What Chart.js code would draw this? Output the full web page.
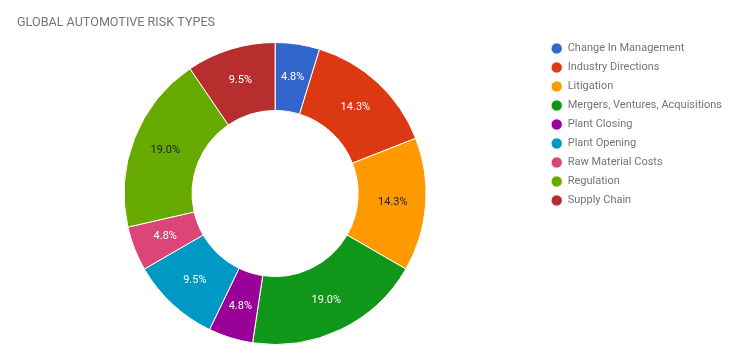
<!DOCTYPE html>
<html>
<head>
<meta charset="utf-8">
<script src="https://cdn.jsdelivr.net/npm/chart.js@4/dist/chart.umd.min.js"></script>
<style>
  body { margin: 0; background: #fff; }
  canvas { display: block; }
</style>
</head>
<body>
<canvas id="myChart" width="740" height="363"></canvas>
<script>
var chartTitle = "GLOBAL AUTOMOTIVE RISK TYPES";
var riskTypes = [
  "Change In Management",
  "Industry Directions",
  "Litigation",
  "Mergers, Ventures, Acquisitions",
  "Plant Closing",
  "Plant Opening",
  "Raw Material Costs",
  "Regulation",
  "Supply Chain"
];
var riskCounts = [1, 3, 3, 4, 1, 2, 1, 4, 2];
var sliceColors = ["#3366cc", "#dc3912", "#ff9900", "#109618", "#990099", "#0099c6", "#dd4477", "#66aa00", "#b82e2e"];
var labelColors = ["#fff", "#fff", "#222", "#fff", "#fff", "#fff", "#fff", "#222", "#fff"];

// title drawn by hand so it can sit left of the chart area
var titlePlugin = {
  id: "leftTitle",
  afterDraw: function (chart) {
    var ctx = chart.ctx;
    ctx.save();
    ctx.font = "12.6px Roboto";
    ctx.fillStyle = "#757575";
    ctx.textBaseline = "middle";
    ctx.textAlign = "left";
    ctx.fillText(chartTitle, 17, 23);
    ctx.restore();
  }
};

// percentage text inside each slice
var percentPlugin = {
  id: "percentLabels",
  afterDatasetsDraw: function (chart) {
    var ctx = chart.ctx;
    var meta = chart.getDatasetMeta(0);
    var total = riskCounts.reduce(function (a, b) { return a + b; }, 0);
    ctx.save();
    ctx.font = "11px Roboto";
    ctx.textAlign = "center";
    ctx.textBaseline = "middle";
    meta.data.forEach(function (arc, i) {
      var p = arc.getProps(["x", "y", "startAngle", "endAngle", "innerRadius", "outerRadius"], true);
      var mid = (p.startAngle + p.endAngle) / 2;
      var r = (p.innerRadius + p.outerRadius) / 2 + 1;
      ctx.fillStyle = labelColors[i];
      ctx.fillText((riskCounts[i] / total * 100).toFixed(1) + "%", p.x + Math.cos(mid) * r, p.y + Math.sin(mid) * r);
    });
    ctx.restore();
  }
};

var ctx = document.getElementById("myChart").getContext("2d");
var myChart = new Chart(ctx, {
  type: "doughnut",
  data: {
    labels: riskTypes,
    datasets: [
      {
        data: riskCounts,
        backgroundColor: sliceColors,
        borderColor: "#fff",
        borderWidth: 1,
        radius: 151,
        cutout: "55%"
      }
    ]
  },
  options: {
    responsive: false,
    animation: false,
    layout: { padding: { left: 7, right: 8, top: 35, bottom: 11 } },
    plugins: {
      tooltip: { enabled: false },
      legend: {
        position: "right",
        align: "start",
        labels: {
          usePointStyle: true,
          pointStyle: "circle",
          boxWidth: 11,
          boxHeight: 8,
          padding: 8,
          color: "#757575",
          font: { family: "Roboto", size: 11 }
        }
      }
    }
  },
  plugins: [titlePlugin, percentPlugin]
});
</script>
</body>
</html>
